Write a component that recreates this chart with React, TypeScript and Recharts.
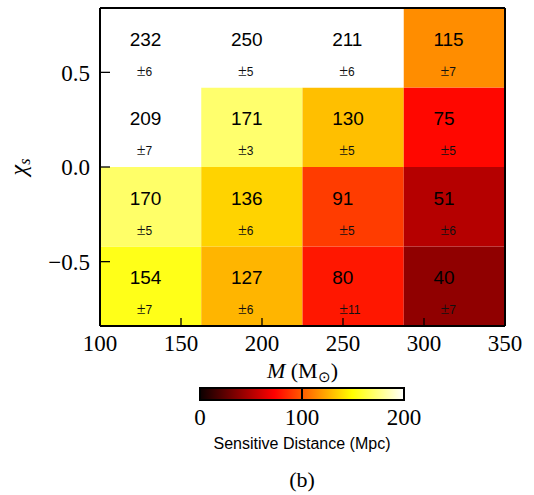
import React from 'react';
import {
  ComposedChart,
  XAxis,
  YAxis,
  ReferenceArea,
  ReferenceLine,
  Scatter,
} from 'recharts';

// bin edges
const massEdges = [100, 162.5, 225, 287.5, 350];
const spinEdges = [-0.84, -0.42, 0, 0.42, 0.84];

// sensitive distance (Mpc) per spin bin, low mass -> high mass
const distSpinLow = [154, 127, 80, 40];
const distSpinMidLow = [170, 136, 91, 51];
const distSpinMidHigh = [209, 171, 130, 75];
const distSpinHigh = [232, 250, 211, 115];

// uncertainties
const errSpinLow = [7, 6, 11, 7];
const errSpinMidLow = [5, 6, 5, 6];
const errSpinMidHigh = [7, 3, 5, 5];
const errSpinHigh = [6, 5, 6, 7];

const xTicks = [100, 150, 200, 250, 300, 350];
const yTicks = [-0.5, 0, 0.5];
const cbTicks = [0, 100, 200];
const cbMax = 200;

const distRows = [distSpinLow, distSpinMidLow, distSpinMidHigh, distSpinHigh];
const errRows = [errSpinLow, errSpinMidLow, errSpinMidHigh, errSpinHigh];

// matplotlib "hot" colormap
function hot(v: number) {
  const t = Math.max(0, Math.min(1, v / cbMax));
  const r = t < 0.365079 ? 0.0416 + (t / 0.365079) * (1 - 0.0416) : 1;
  const g = t < 0.365079 ? 0 : t < 0.746032 ? (t - 0.365079) / (0.746032 - 0.365079) : 1;
  const b = t < 0.746032 ? 0 : (t - 0.746032) / (1 - 0.746032);
  const c = (x: number) => Math.round(x * 255);
  return `rgb(${c(r)},${c(g)},${c(b)})`;
}

const cells = distRows.flatMap((row, i) =>
  row.map((d, j) => ({
    x1: massEdges[j],
    x2: massEdges[j + 1],
    y1: spinEdges[i],
    y2: spinEdges[i + 1],
    x: (massEdges[j] + massEdges[j + 1]) / 2,
    y: (spinEdges[i] + spinEdges[i + 1]) / 2,
    dist: d,
    err: errRows[i][j],
  }))
);

const cbPoints = cbTicks.map((v) => ({ x: v, y: 0.5 }));

const serif = '"Liberation Serif", "Times New Roman", serif';
const sans = '"Liberation Sans", Arial, sans-serif';

const fmtY = (v: number) => (v < 0 ? '\u2212' + Math.abs(v).toFixed(1) : v.toFixed(1));

const CellText = (props: any) => {
  const { cx, cy, payload } = props;
  return (
    <g>
      <text x={cx - 21} y={cy - 2} fontFamily={sans} fontSize={19} fill="#000">
        {payload.dist}
      </text>
      <text x={cx - 14} y={cy + 28} fontFamily={sans} fill="#111">
        <tspan fontSize={16} fontFamily={serif}>{'\u00b1'}</tspan>
        <tspan fontSize={12}>{payload.err}</tspan>
      </text>
    </g>
  );
};

const NoShape = () => <g />;

const XLabel = (props: any) => {
  const vb = props.viewBox;
  return (
    <text x={vb.x + vb.width / 2} y={378} textAnchor="middle" fontFamily={serif} fontSize={22} fill="#000">
      <tspan fontStyle="italic">M</tspan>
      <tspan> (M</tspan>
      <tspan fontSize={15} dy={4}>{'\u2299'}</tspan>
      <tspan dy={-4}>)</tspan>
    </text>
  );
};

const YLabel = () => (
  <text x={26} y={167} transform="rotate(-90 26 167)" textAnchor="middle" fontFamily={serif} fontSize={24} fill="#000">
    <tspan fontStyle="italic">{'\u03c7'}</tspan>
    <tspan fontStyle="italic" fontSize={16} dy={4}>s</tspan>
  </text>
);

// colorbar chart is placed at top 380, so y here is relative to that
const CbLabel = (props: any) => {
  const vb = props.viewBox;
  const cx = vb.x + vb.width / 2;
  return (
    <g>
      <text x={cx} y={69} textAnchor="middle" fontFamily={sans} fontSize={16} fill="#000">
        Sensitive Distance (Mpc)
      </text>
      <text x={cx} y={107} textAnchor="middle" fontFamily={serif} fontSize={22} fill="#000">
        (b)
      </text>
    </g>
  );
};

const axisLine = { stroke: '#000', strokeWidth: 2 };
const tickLine = { stroke: '#000', strokeWidth: 1.3 };
const tickFont = { fill: '#000', fontFamily: serif, fontSize: 23 };

export default function App() {
  return (
    <div style={{ position: 'absolute', left: 0, top: 0, width: 534, height: 495, background: '#fff' }}>
      <svg width={1} height={1} style={{ position: 'absolute', left: 0, top: 0 }}>
        <defs>
          <linearGradient id="hotGrad" x1="0" y1="0" x2="1" y2="0">
            <stop offset="0" stopColor={hot(0)} />
            <stop offset="0.365079" stopColor={hot(0.365079 * cbMax)} />
            <stop offset="0.746032" stopColor={hot(0.746032 * cbMax)} />
            <stop offset="1" stopColor={hot(cbMax)} />
          </linearGradient>
        </defs>
      </svg>

      {/* cells and values */}
      <div style={{ position: 'absolute', left: 0, top: 0 }}>
        <ComposedChart width={534} height={390} margin={{ top: 8, right: 29, bottom: 64, left: 100 }}>
          {cells.map((c, k) => (
            <ReferenceArea
              key={k}
              x1={c.x1}
              x2={c.x2}
              y1={c.y1}
              y2={c.y2}
              fill={hot(c.dist)}
              fillOpacity={1}
              stroke="none"
              ifOverflow="visible"
            />
          ))}
          <Scatter data={cells} dataKey="y" shape={CellText} isAnimationActive={false} />
          <XAxis type="number" dataKey="x" domain={[100, 350]} hide />
          <YAxis type="number" dataKey="y" domain={[-0.84, 0.84]} hide />
        </ComposedChart>
      </div>

      {/* frame, ticks and axis labels on top */}
      <div style={{ position: 'absolute', left: 0, top: 0 }}>
        <ComposedChart width={534} height={390} margin={{ top: 7, right: 28, bottom: 0, left: 40 }}>
          <Scatter data={cells} dataKey="y" shape={NoShape} isAnimationActive={false} />
          <Scatter
            data={cells}
            dataKey="y"
            xAxisId="top"
            yAxisId="right"
            shape={NoShape}
            isAnimationActive={false}
          />
          <XAxis
            type="number"
            dataKey="x"
            domain={[100, 350]}
            ticks={xTicks}
            interval={0}
            height={64}
            tickSize={-8}
            tickMargin={17}
            axisLine={axisLine}
            tickLine={tickLine}
            tick={tickFont}
            label={<XLabel />}
          />
          <XAxis
            xAxisId="top"
            orientation="top"
            type="number"
            dataKey="x"
            domain={[100, 350]}
            ticks={xTicks}
            interval={0}
            height={1}
            tickSize={-8}
            tick={false}
            axisLine={axisLine}
            tickLine={tickLine}
          />
          <YAxis
            type="number"
            dataKey="y"
            domain={[-0.84, 0.84]}
            ticks={yTicks}
            interval={0}
            width={60}
            tickSize={-10}
            tickMargin={20}
            tickFormatter={fmtY}
            axisLine={axisLine}
            tickLine={tickLine}
            tick={tickFont}
            label={<YLabel />}
          />
          <YAxis
            yAxisId="right"
            orientation="right"
            type="number"
            dataKey="y"
            domain={[-0.84, 0.84]}
            ticks={yTicks}
            interval={0}
            width={1}
            tickSize={-10}
            tick={false}
            axisLine={axisLine}
            tickLine={tickLine}
          />
        </ComposedChart>
      </div>

      {/* colorbar */}
      <div style={{ position: 'absolute', left: 0, top: 380 }}>
        <ComposedChart width={534} height={114} margin={{ top: 8, right: 130, bottom: 0, left: 200 }}>
          <ReferenceArea
            x1={0}
            x2={cbMax}
            y1={0}
            y2={1}
            fill="url(#hotGrad)"
            fillOpacity={1}
            stroke="#000"
            strokeWidth={2}
            ifOverflow="visible"
          />
          <ReferenceLine x={100} stroke="#000" strokeWidth={2} ifOverflow="visible" />
          <Scatter data={cbPoints} dataKey="y" shape={NoShape} isAnimationActive={false} />
          <XAxis
            type="number"
            dataKey="x"
            domain={[0, cbMax]}
            ticks={cbTicks}
            interval={0}
            height={94}
            tickSize={-12}
            tickMargin={21}
            axisLine={false}
            tickLine={false}
            tick={tickFont}
            label={<CbLabel />}
          />
          <YAxis type="number" dataKey="y" domain={[0, 1]} hide />
        </ComposedChart>
      </div>
    </div>
  );
}
